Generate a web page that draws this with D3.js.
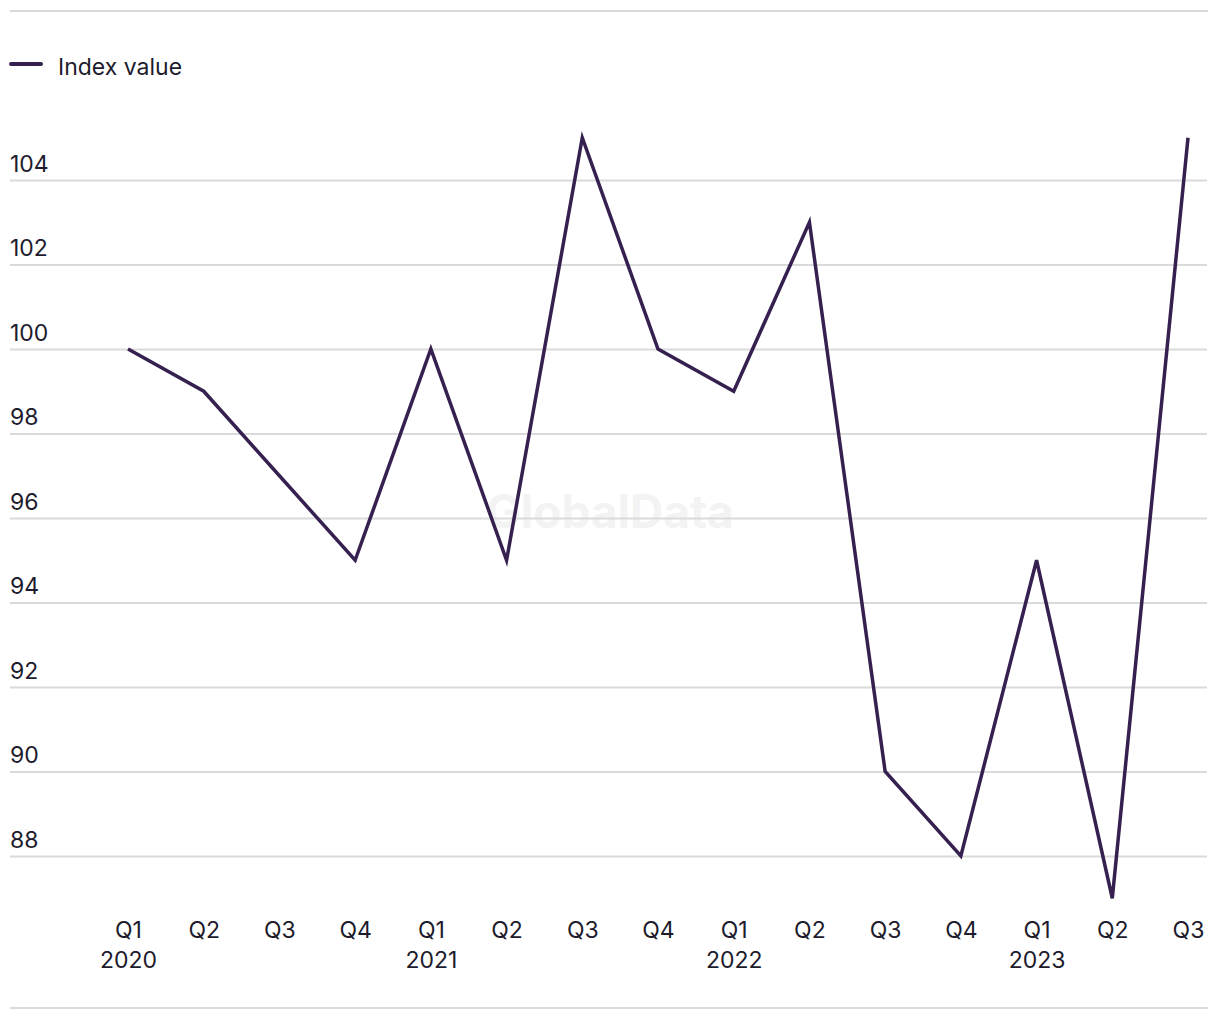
<!DOCTYPE html>
<html lang="en">
<head>
  <meta charset="UTF-8">
  <title>Index value</title>
  <style>
    body, html { margin: 0; padding: 0; background: #fff; }
    #svg { display: block; }
    text { font-family: Inter, "Liberation Sans", Arial, sans-serif; fill: #1d1b2c; }
  </style>
</head>
<body>
  <svg id="svg" width="1220" height="1020"></svg>
  <script src="https://d3js.org/d3.v7.min.js"></script>
  <script>
    // data
    const quarters = ['Q1', 'Q2', 'Q3', 'Q4', 'Q1', 'Q2', 'Q3', 'Q4', 'Q1', 'Q2', 'Q3', 'Q4', 'Q1', 'Q2', 'Q3']
    const years = ['2020', '', '', '', '2021', '', '', '', '2022', '', '', '', '2023', '', '']
    const indexValues = [100, 99, 97, 95, 100, 95, 105, 100, 99, 103, 90, 88, 95, 87, 105]
    const yTicks = [88, 90, 92, 94, 96, 98, 100, 102, 104]
    const seriesName = 'Index value'

    const lineColor = '#35204f'
    const gridColor = '#dadada'
    const fontFam = 'Inter, "Liberation Sans", Arial, sans-serif'

    const svg = d3.select('#svg')
    const keys = d3.range(indexValues.length)

    // scales
    const x = d3.scalePoint().domain(keys).range([128, 1188])
    const y = d3.scaleLinear().domain([88, 104]).range([856, 180])

    // top & bottom rules
    svg.append('line').attr('x1', 10).attr('x2', 1208).attr('y1', 11).attr('y2', 11)
      .attr('stroke', gridColor).attr('stroke-width', 2)
    svg.append('line').attr('x1', 10).attr('x2', 1208).attr('y1', 1008).attr('y2', 1008)
      .attr('stroke', gridColor).attr('stroke-width', 2)

    // watermark
    svg.append('text')
      .attr('x', 610).attr('y', 528)
      .attr('text-anchor', 'middle')
      .style('font-size', '46px').style('font-weight', 'bold')
      .style('fill', '#f3f3f3')
      .text('GlobalData')

    // y grid + labels
    const yAxis = d3.axisLeft(y).tickValues(yTicks).tickSize(-1197).tickPadding(0)
    const gy = svg.append('g').attr('transform', 'translate(10,0)').call(yAxis)
    gy.select('.domain').remove()
    gy.selectAll('.tick line').attr('stroke', gridColor).attr('stroke-width', 2)
    gy.selectAll('.tick text')
      .attr('x', 0).attr('dy', -9)
      .attr('text-anchor', 'start')
      .style('font-size', '23px').style('font-family', fontFam)
      .attr('fill', '#1d1b2c')

    // x axis labels
    const xAxis = d3.axisBottom(x).tickSize(0).tickFormat(i => quarters[i])
    const gx = svg.append('g').attr('transform', 'translate(0,914)').call(xAxis)
    gx.select('.domain').remove()
    gx.selectAll('.tick text')
      .attr('y', 0).attr('dy', '24px')
      .style('font-size', '23px').style('font-family', fontFam)
      .attr('fill', '#1d1b2c')
    gx.selectAll('.tick').append('text')
      .attr('y', 54)
      .attr('text-anchor', 'middle')
      .style('font-size', '23px')
      .attr('fill', '#1d1b2c')
      .text(i => years[i])

    // line
    const line = d3.line().x((d, i) => x(i)).y(d => y(d))
    svg.append('path')
      .datum(indexValues)
      .attr('fill', 'none')
      .attr('stroke', lineColor)
      .attr('stroke-width', 3.5)
      .attr('stroke-linejoin', 'miter')
      .attr('d', line)

    // legend
    svg.append('line').attr('x1', 11).attr('x2', 41).attr('y1', 64).attr('y2', 64)
      .attr('stroke', lineColor).attr('stroke-width', 4).attr('stroke-linecap', 'round')
    svg.append('text').attr('x', 58).attr('y', 75)
      .style('font-size', '23px')
      .text(seriesName)
  </script>
</body>
</html>
